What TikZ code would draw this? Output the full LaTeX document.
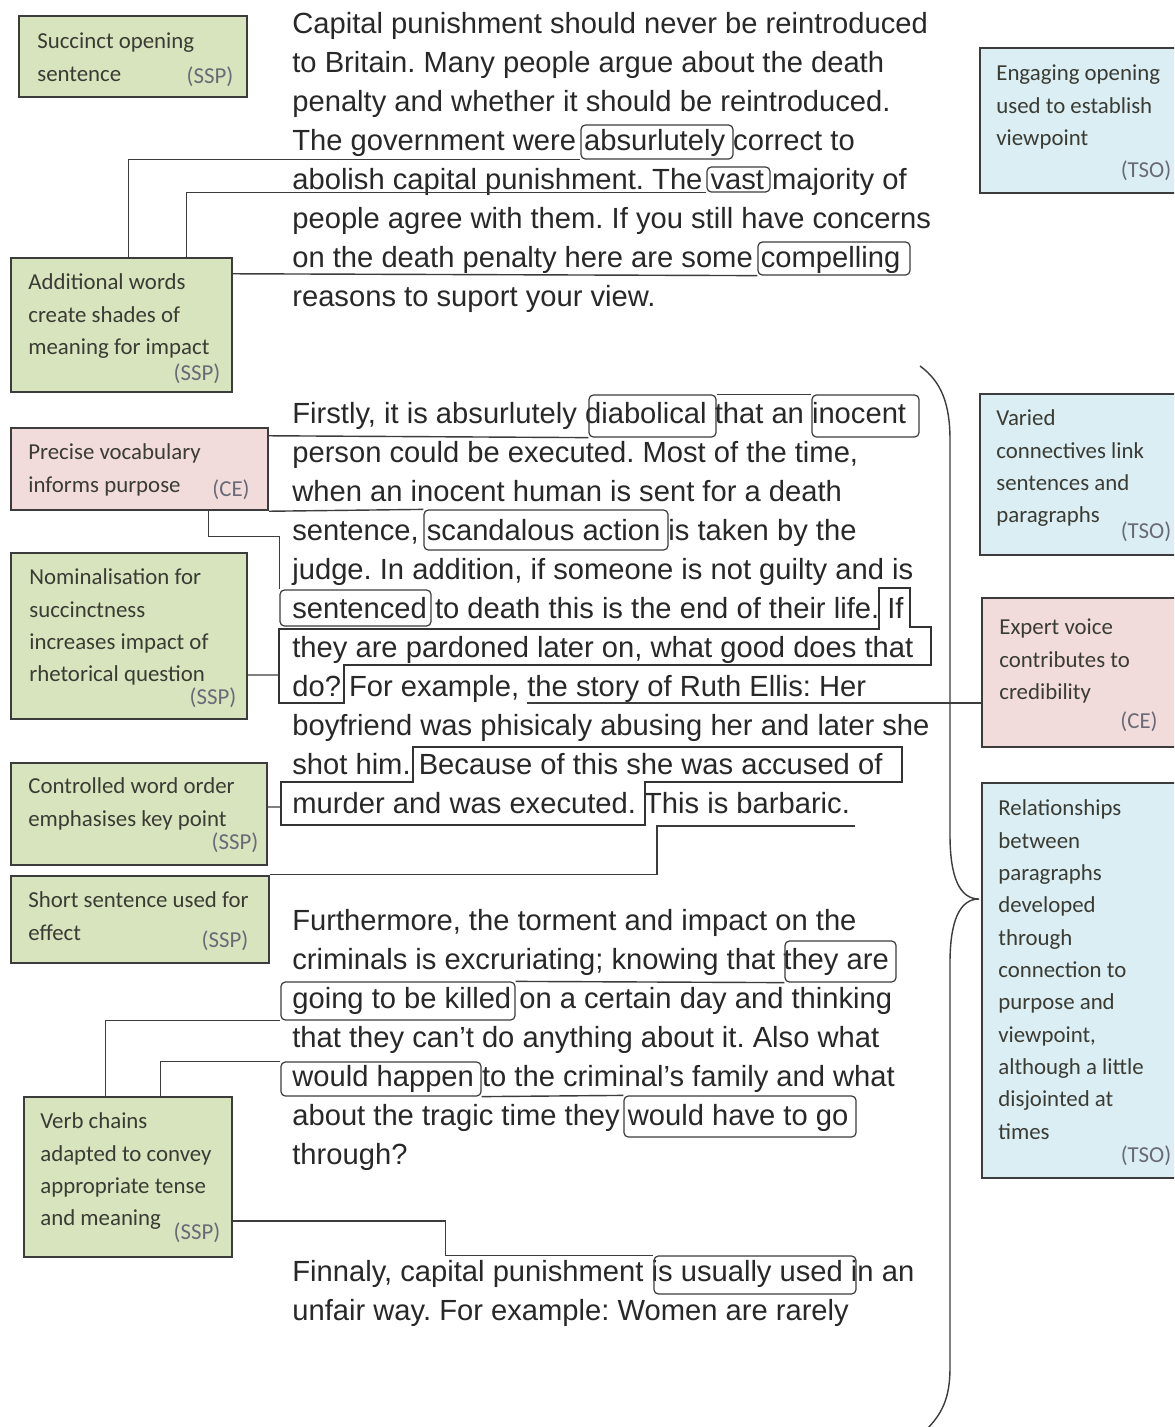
\documentclass[tikz,border=0pt]{standalone}
\usepackage{fontspec}
\setmainfont{Liberation Sans}
\newfontfamily\notefont{Carlito}
\usepackage{tikz}
\usetikzlibrary{fit}
\frenchspacing

\definecolor{sspgreen}{RGB}{215,228,189}
\definecolor{cepink}{RGB}{242,220,219}
\definecolor{tsoblue}{RGB}{219,238,244}
\definecolor{inkgray}{RGB}{40,40,40}
\definecolor{notegray}{RGB}{58,60,52}
\definecolor{taggray}{RGB}{105,106,118}
\definecolor{rulegray}{RGB}{60,60,60}

\tikzset{
  essay/.style={anchor=base west,inner sep=0,text=inkgray,font=\fontsize{16.6}{22}\selectfont},
  notebox/.style={draw=rulegray,line width=1.4pt,inner sep=0},
  ssp/.style={notebox,fill=sspgreen},
  ce/.style={notebox,fill=cepink},
  tso/.style={notebox,fill=tsoblue},
  notetext/.style={anchor=north west,inner sep=0,align=left,text=notegray,font=\notefont\fontsize{13}{18.4}\selectfont},
  tag/.style={inner sep=0,text=taggray,font=\notefont\fontsize{13}{16}\selectfont},
  wordbox/.style={draw=rulegray,line width=0.7pt,rounded corners=2.5pt,inner sep=0},
  spanbox/.style={draw=black!80,line width=0.8pt},
  link/.style={draw=rulegray,line width=0.8pt},
  brace/.style={draw=rulegray,line width=0.8pt}
}

\begin{document}
\begin{tikzpicture}[x=0.02cm,y=-0.02cm]
  \useasboundingbox (0,0) rectangle (1174,1427);
  \fill[white] (0,0) rectangle (1174,1427);
  \clip (0,0) rectangle (1174,1427);

  % annotation boxes, left
  \node[ssp,fit={(19,16) (247,97)}] (succ) {};
  \node[ssp,fit={(11,258) (232,392)}] (addw) {};
  \node[ce, fit={(11,428) (268,510)}] (prec) {};
  \node[ssp,fit={(11,553) (247,719)}] (nomin) {};
  \node[ssp,fit={(11,763) (267,865)}] (ctrl) {};
  \node[ssp,fit={(11,876) (269,963)}] (short) {};
  \node[ssp,fit={(24,1097) (232,1257)}] (verb) {};

  % annotation boxes, right
  \node[tso,fit={(980,48) (1190,193)}] (engage) {};
  \node[tso,fit={(980,394) (1190,555)}] (varied) {};
  \node[ce, fit={(982,598) (1190,747)}] (expert) {};
  \node[tso,fit={(982,783) (1190,1178)}] (relat) {};

  \node[notetext] (succ-txt) at (37,31) {\rule{0pt}{10pt}Succinct opening\\sentence};
  \node[notetext] (addw-txt) at (28,272) {\rule{0pt}{10pt}Additional words\\create shades of\\meaning for impact};
  \node[notetext] (prec-txt) at (28,442) {\rule{0pt}{10pt}Precise vocabulary\\informs purpose};
  \node[notetext] (nomin-txt) at (29,567) {\rule{0pt}{10pt}Nominalisation for\\succinctness\\increases impact of\\rhetorical question};
  \node[notetext] (ctrl-txt) at (28,776) {\rule{0pt}{10pt}Controlled word order\\emphasises key point};
  \node[notetext] (short-txt) at (28,890) {\rule{0pt}{10pt}Short sentence used for\\effect};
  \node[notetext] (verb-txt) at (40,1111) {\rule{0pt}{10pt}Verb chains\\adapted to convey\\appropriate tense\\and meaning};
  \node[notetext] (engage-txt) at (996,63) {\rule{0pt}{10pt}Engaging opening\\used to establish\\viewpoint};
  \node[notetext] (varied-txt) at (996,408) {\rule{0pt}{10pt}Varied\\connectives link\\sentences and\\paragraphs};
  \node[notetext] (expert-txt) at (999,617) {\rule{0pt}{10pt}Expert voice\\contributes to\\credibility};
  \node[notetext] (relat-txt) at (998,798) {\rule{0pt}{10pt}Relationships\\between\\paragraphs\\developed\\through\\connection to\\purpose and\\viewpoint,\\although a little\\disjointed at\\times};

  \node[tag] (succ-tag) at (210,77) {(SSP)};
  \node[tag] (addw-tag) at (197,374) {(SSP)};
  \node[tag] (prec-tag) at (231,490) {(CE)};
  \node[tag] (nomin-tag) at (213,698) {(SSP)};
  \node[tag] (ctrl-tag) at (235,843) {(SSP)};
  \node[tag] (short-tag) at (225,941) {(SSP)};
  \node[tag] (verb-tag) at (197,1233) {(SSP)};
  \node[tag] (engage-tag) at (1146,171) {(TSO)};
  \node[tag] (varied-tag) at (1146,532) {(TSO)};
  \node[tag] (expert-tag) at (1139,722) {(CE)};
  \node[tag] (relat-tag) at (1146,1156) {(TSO)};

  % the essay
  \node[essay] (p1l1) at (292,33) {Capital punishment should never be reintroduced};
  \node[essay] (p1l2) at (292,72) {to Britain. Many people argue about the death};
  \node[essay] (p1l3) at (292,111) {penalty and whether it should be reintroduced.};
  \node[essay] (p1l4) at (292,150) {The government were absurlutely correct to};
  \node[essay] (p1l5) at (292,189) {abolish capital punishment. The vast majority of};
  \node[essay] (p1l6) at (292,228) {people agree with them. If you still have concerns};
  \node[essay] (p1l7) at (292,267) {on the death penalty here are some compelling};
  \node[essay] (p1l8) at (292,306) {reasons to suport your view.};

  \node[essay] (p2l1) at (292,423) {Firstly, it is absurlutely diabolical that an inocent};
  \node[essay] (p2l2) at (292,462) {person could be executed. Most of the time,};
  \node[essay] (p2l3) at (292,501) {when an inocent human is sent for a death};
  \node[essay] (p2l4) at (292,540) {sentence, scandalous action is taken by the};
  \node[essay] (p2l5) at (292,579) {judge. In addition, if someone is not guilty and is};
  \node[essay] (p2l6) at (292,618) {sentenced to death this is the end of their life. If};
  \node[essay] (p2l7) at (292,657) {they are pardoned later on, what good does that};
  \node[essay] (p2l8) at (292,696) {do? For example, the story of Ruth Ellis: Her};
  \node[essay] (p2l9) at (292,735) {boyfriend was phisicaly abusing her and later she};
  \node[essay] (p2l10) at (292,774) {shot him. Because of this she was accused of};
  \node[essay] (p2l11) at (292,813) {murder and was executed. This is barbaric.};

  \node[essay] (p3l1) at (292,930) {Furthermore, the torment and impact on the};
  \node[essay] (p3l2) at (292,969) {criminals is excruriating; knowing that they are};
  \node[essay] (p3l3) at (292,1008) {going to be killed on a certain day and thinking};
  \node[essay] (p3l4) at (292,1047) {that they can’t do anything about it. Also what};
  \node[essay] (p3l5) at (292,1086) {would happen to the criminal’s family and what};
  \node[essay] (p3l6) at (292,1125) {about the tragic time they would have to go};
  \node[essay] (p3l7) at (292,1164) {through?};

  \node[essay] (p4l1) at (292,1281) {Finnaly, capital punishment is usually used in an};
  \node[essay] (p4l2) at (292,1320) {unfair way. For example: Women are rarely};

  % boxed words
  \node[wordbox,fit={(581,125) (733,159)}] (absurl) {};
  \node[wordbox,fit={(707,167) (770,192)}] (vast) {};
  \node[wordbox,fit={(758,242) (910,275)}] (compel) {};
  \node[wordbox,fit={(589,395) (716,437)}] (diab) {};
  \node[wordbox,fit={(812,395) (919,437)}] (inoc) {};
  \node[wordbox,fit={(424,510) (668,550)}] (scand) {};
  \node[wordbox,fit={(280,590) (431,626)}] (sentd) {};
  \node[wordbox,fit={(785,941) (896,982)}] (theyare) {};
  \node[wordbox,fit={(281,982) (515,1020)}] (killed) {};
  \node[wordbox,fit={(281,1062) (481,1096)}] (wouldh) {};
  \node[wordbox,fit={(624,1096) (856,1137)}] (wouldg) {};
  \node[wordbox,fit={(654,1256) (856,1294)}] (usual) {};

  % boxed runs of text
  \draw[spanbox] (879,588) -- (910,588) -- (910,627) -- (931,627) -- (931,665) -- (344,665)
    -- (344,703) -- (279,703) -- (279,629) -- (879,629) -- cycle;
  \draw[spanbox] (413,747) -- (902,747) -- (902,782) -- (645,782) -- (645,825) -- (281,825)
    -- (281,782) -- (413,782) -- cycle;
  \coordinate (ifq) at (279,675);
  \coordinate (becq) at (281,807);
  \coordinate (story) at (527,703);
  \coordinate (barb) at (657,826);
  \coordinate (barbend) at (855,826);

  % connectors
  \draw[link] ([xshift=2.38cm]addw.north west) |- (absurl.south west);
  \draw[link] ([xshift=3.54cm]addw.north west) |- (vast.south west);
  \draw[link] ([yshift=-0.34cm]addw.north east) -- (compel.south west);
  \draw[link] ([yshift=-0.18cm]prec.north east) -- (diab.south west);
  \draw[link] (diab.north east) -- (inoc.north west);
  \draw[link] (prec.south east) -- (scand.north west);
  \draw[link] ([xshift=3.98cm]prec.south west) -- ++(0,25) -| (sentd.north west);
  \draw[link] ([yshift=-0.78cm]nomin.east) -- (ifq);
  \draw[link] (story -| expert.west) -- (story);
  \draw[link] ([yshift=0.14cm]ctrl.east) -- (becq);
  \draw[link] (short.north east) -| (barb) -- (barbend);
  \draw[link] (killed.north east) -- (theyare.south west);
  \draw[link] ([xshift=1.66cm]verb.north west) |- (killed.south west);
  \draw[link] ([xshift=2.76cm]verb.north west) |- (wouldh.north west);
  \draw[link] (wouldh.south east) -- (wouldg.north west);
  \draw[link] ([yshift=-0.88cm]verb.east) -- ++(212,0) |- (usual.north west);

  % brace to the paragraphs note
  \draw[brace] (920,366) .. controls (942,382) and (950,405) .. (950,440) -- (950,835)
    .. controls (950,878) and (960,899) .. (979,899)
    .. controls (960,899) and (950,920) .. (950,963) -- (950,1368)
    .. controls (950,1398) and (942,1414) .. (926,1430);
\end{tikzpicture}
\end{document}
